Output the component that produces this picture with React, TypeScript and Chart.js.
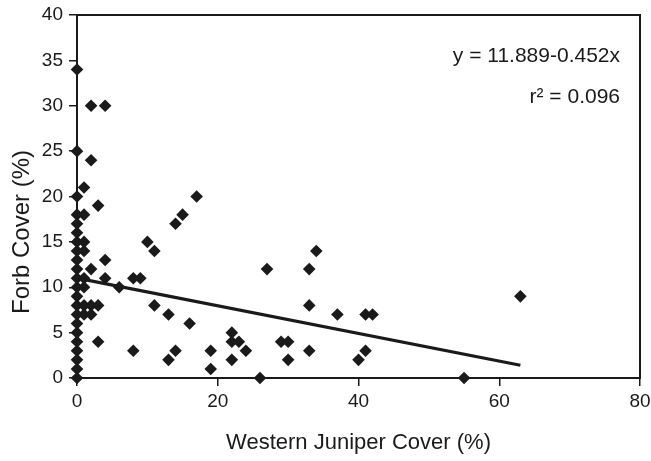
import React, { useEffect, useRef } from "react";
import { Chart, registerables } from "chart.js";

Chart.register(...registerables);

// Forb cover at 0% juniper cover
const zeroXForb = [0, 1, 2, 3, 4, 5, 6, 7, 8, 9, 10, 11, 12, 13, 14, 15, 16, 17, 18, 20, 25, 34];

// Other plots: juniper cover (%) and forb cover (%)
const juniperCover = [
  1, 1, 1, 1, 1, 1, 1, 1,
  2, 2, 2, 2, 2,
  3, 3, 3,
  4, 4, 4,
  6, 8, 8, 9, 10, 11, 11, 13, 13, 14, 14, 15, 16, 17, 19, 19,
  22, 22, 22, 23, 24, 26, 27, 29, 30, 30, 33, 33, 33, 34, 37,
  41, 42, 41, 40, 55, 63,
];
const forbCover = [
  21, 18, 15, 14, 11, 10, 8, 7,
  30, 24, 12, 8, 7,
  19, 8, 4,
  30, 13, 11,
  10, 11, 3, 11, 15, 14, 8, 7, 2, 17, 3, 18, 6, 20, 3, 1,
  5, 4, 2, 4, 3, 0, 12, 4, 4, 2, 12, 8, 3, 14, 7,
  7, 7, 3, 2, 0, 9,
];

// Fitted line as drawn (end points)
const fitX = [0, 63];
const fitY = [11.0, 1.4];

const xTicks = [0, 20, 40, 60, 80];
const yTicks = [0, 5, 10, 15, 20, 25, 30, 35, 40];

const xTitle = "Western Juniper Cover (%)";
const yTitle = "Forb Cover (%)";
const equationText = "y = 11.889-0.452x";
const r2Text = "r\u00B2 = 0.096";

const FONT = "'Liberation Sans', Arial, Helvetica, sans-serif";
const INK = "#1a1a1a";

export default function App() {
  const canvasRef = useRef<HTMLCanvasElement | null>(null);

  useEffect(() => {
    document.body.style.margin = "0";
    const canvas = canvasRef.current;
    if (!canvas) return;

    const points = [
      ...zeroXForb.map((y) => ({ x: 0, y })),
      ...juniperCover.map((x, i) => ({ x, y: forbCover[i] })),
    ];
    const fit = fitX.map((x, i) => ({ x, y: fitY[i] }));

    const framePlugin = {
      id: "frame",
      beforeDatasetsDraw(chart: any) {
        const { ctx, chartArea } = chart;
        ctx.save();
        ctx.strokeStyle = INK;
        ctx.lineWidth = 2;
        ctx.strokeRect(
          chartArea.left,
          chartArea.top,
          chartArea.right - chartArea.left,
          chartArea.bottom - chartArea.top
        );
        ctx.restore();
      },
      afterDatasetsDraw(chart: any) {
        const { ctx, chartArea } = chart;
        ctx.save();
        ctx.fillStyle = INK;
        ctx.font = `21px ${FONT}`;
        ctx.textAlign = "right";
        ctx.textBaseline = "alphabetic";
        ctx.fillText(equationText, chartArea.right - 20, chartArea.top + 47);
        ctx.fillText(r2Text, chartArea.right - 20, chartArea.top + 88);

        // y-axis title
        ctx.translate(22, chartArea.top + 217);
        ctx.rotate(-Math.PI / 2);
        ctx.textAlign = "center";
        ctx.textBaseline = "middle";
        ctx.font = `24px ${FONT}`;
        ctx.fillText(yTitle, 0, 0);
        ctx.restore();
      },
    };

    const chart = new Chart(canvas, {
      type: "scatter",
      data: {
        datasets: [
          {
            type: "line",
            data: fit,
            borderColor: INK,
            borderWidth: 3.2,
            pointRadius: 0,
            showLine: true,
            fill: false,
            clip: false,
            order: 2,
          } as any,
          {
            data: points,
            pointStyle: "rectRot",
            pointRadius: 6.3,
            pointHoverRadius: 6.3,
            backgroundColor: INK,
            borderColor: INK,
            borderWidth: 0,
            clip: false,
            order: 1,
          } as any,
        ],
      },
      options: {
        animation: false,
        responsive: false,
        maintainAspectRatio: false,
        layout: { padding: { top: 15, right: 11, left: 0, bottom: 0 } },
        plugins: {
          legend: { display: false },
          tooltip: { enabled: false },
        },
        scales: {
          x: {
            type: "linear",
            min: 0,
            max: 80,
            afterBuildTicks: (s: any) => {
              s.ticks = xTicks.map((v) => ({ value: v }));
            },
            afterFit: (s: any) => {
              s.height = 83;
              s.paddingRight = 0;
              s.paddingLeft = 0;
            },
            border: { display: false },
            grid: {
              display: true,
              drawOnChartArea: false,
              drawTicks: true,
              tickLength: 8,
              color: INK,
              lineWidth: 1.5,
            },
            ticks: {
              color: INK,
              font: { family: FONT, size: 19 },
              padding: 4,
              maxRotation: 0,
            },
            title: {
              display: true,
              text: xTitle,
              color: INK,
              font: { family: FONT, size: 22 },
              padding: { top: 0, bottom: 5 },
            },
          },
          y: {
            type: "linear",
            min: 0,
            max: 40,
            afterBuildTicks: (s: any) => {
              s.ticks = yTicks.map((v) => ({ value: v }));
            },
            afterFit: (s: any) => {
              s.width = 77;
              s.paddingTop = 0;
              s.paddingBottom = 0;
            },
            border: { display: false },
            grid: {
              display: true,
              drawOnChartArea: false,
              drawTicks: true,
              tickLength: 8,
              color: INK,
              lineWidth: 1.5,
            },
            ticks: {
              color: INK,
              font: { family: FONT, size: 19 },
              padding: 6,
            },
            title: { display: false },
          },
        },
      },
      plugins: [framePlugin],
    });

    return () => chart.destroy();
  }, []);

  return (
    <div style={{ width: 651, height: 461, background: "#fff" }}>
      <canvas ref={canvasRef} width={651} height={461} style={{ width: 651, height: 461 }} />
    </div>
  );
}
